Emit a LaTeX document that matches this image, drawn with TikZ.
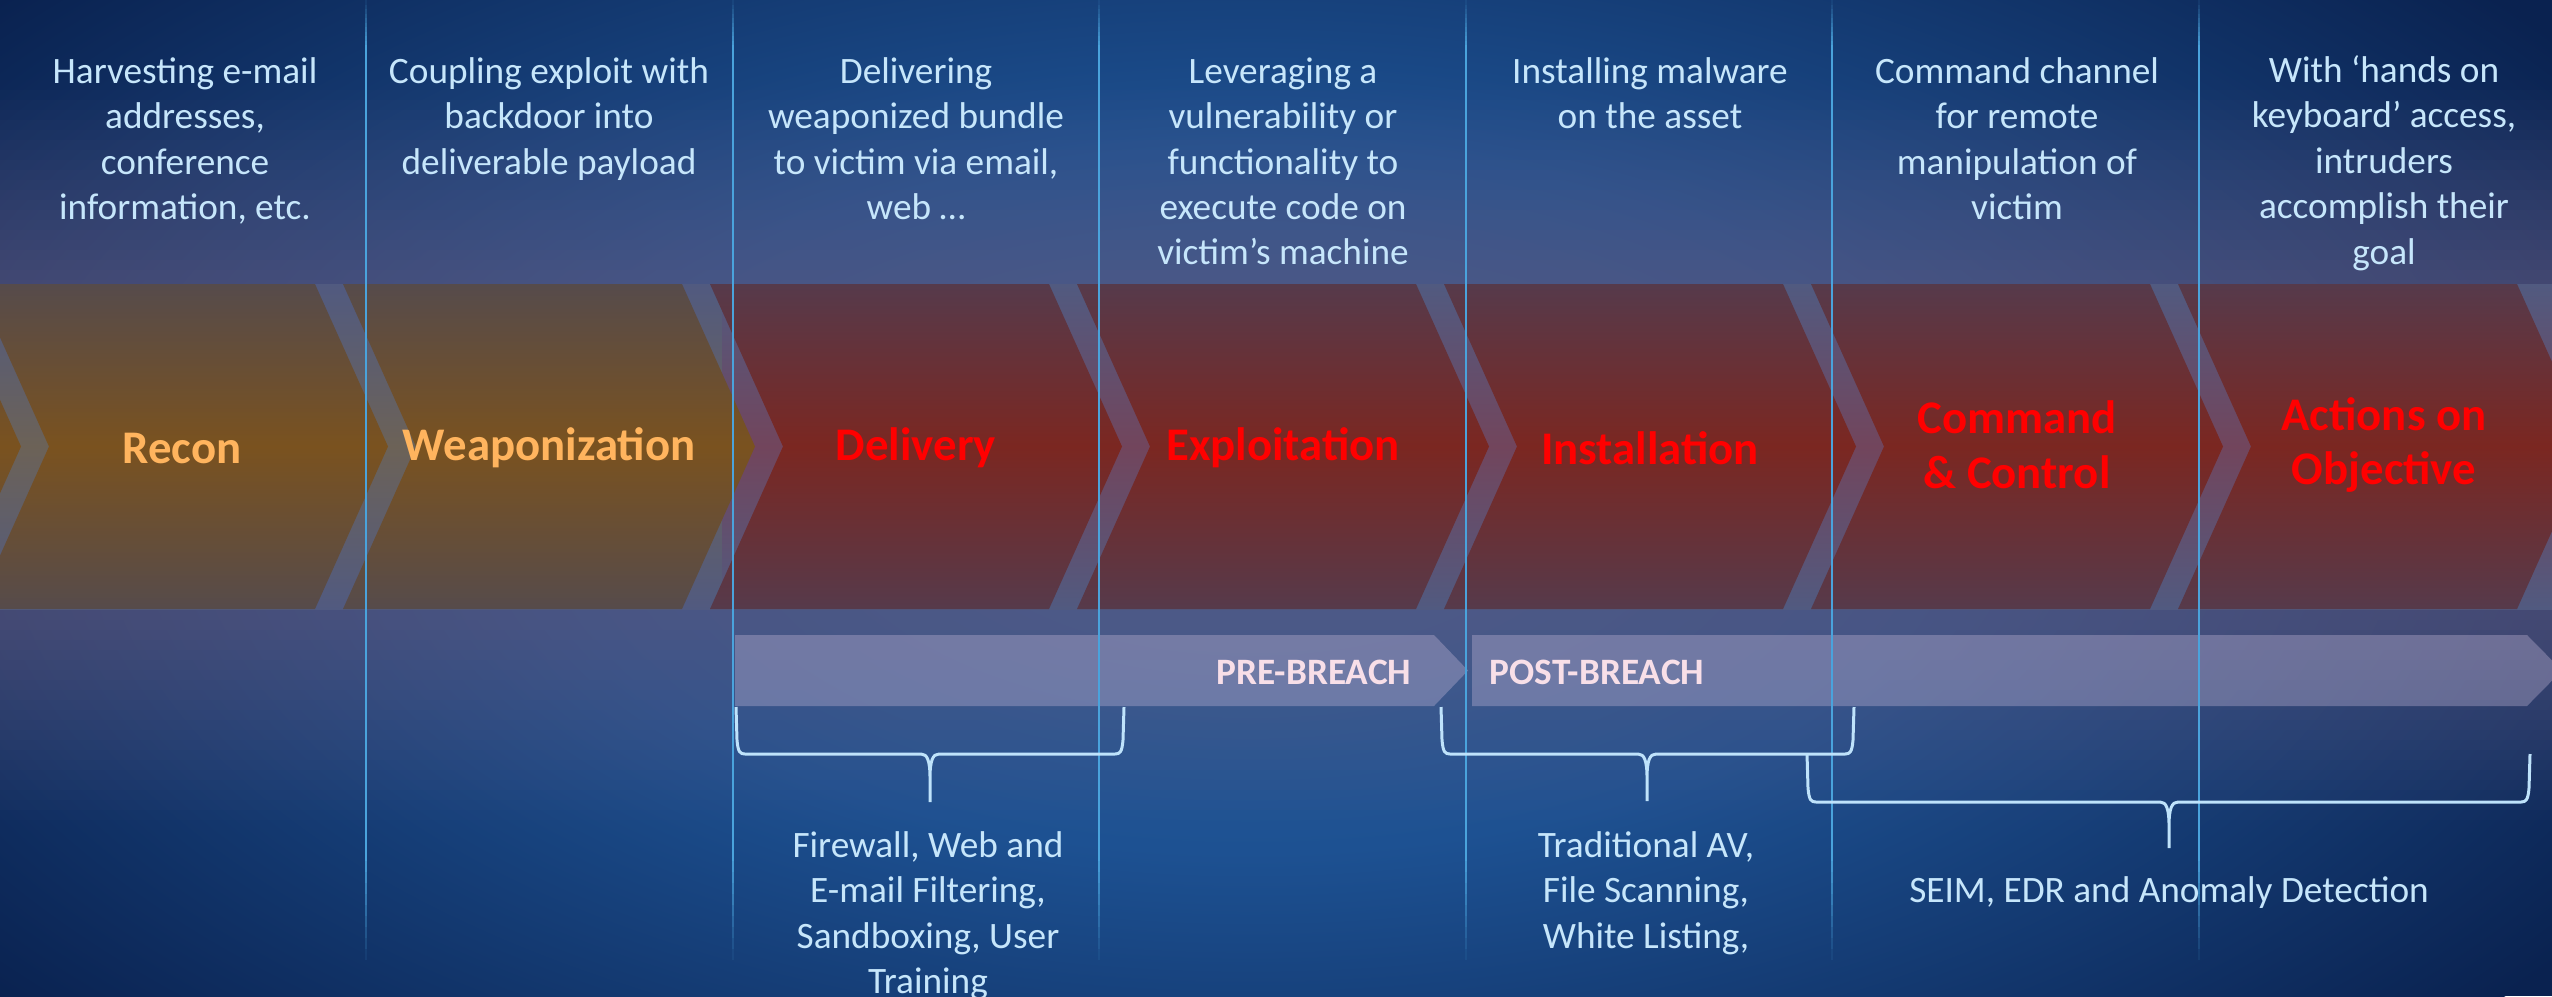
\documentclass[tikz,border=0pt]{standalone}
\usepackage{fontspec}
\setmainfont{Carlito}
\definecolor{bgdark}{HTML}{0A2250}
\definecolor{bgmidA}{HTML}{2C629E}
\definecolor{bgmidB}{HTML}{1D5192}
\definecolor{descblue}{HTML}{C6E6FB}
\definecolor{braceblue}{HTML}{BFE3FB}
\definecolor{vline}{HTML}{4AA3DC}
\definecolor{orangeT}{HTML}{FFB45E}
\definecolor{pinkT}{HTML}{F8DFE8}
\definecolor{oTop}{HTML}{564B4B}
\definecolor{oMid}{HTML}{7A521F}
\definecolor{rTop}{HTML}{563A4B}
\definecolor{rMid}{HTML}{7B2721}
\definecolor{gapTop}{HTML}{515A80}
\definecolor{gapO}{HTML}{6C6257}
\definecolor{gapR}{HTML}{72455C}
\definecolor{bandcol}{HTML}{64587C}
\definecolor{barcol}{HTML}{C4B8D8}
\pgfdeclareradialshading{bgrad}{\pgfpoint{0bp}{0bp}}{color(0bp)=(bgmidA); color(11bp)=(bgmidB); color(25bp)=(bgdark); color(50bp)=(bgdark)}
\newcommand{\mybrace}[6]{% xl, xr, xm, y0, y1, y2
  \draw[bracestyle] (#1,#4) -- (#1+1,#5-14) .. controls (#1+2,#5-2) and (#1+4,#5) .. (#1+9,#5)
    -- (#3-9,#5) .. controls (#3-3,#5) and (#3,#5+6) .. (#3,#5+24) -- (#3,#6)
    (#3,#5+24) .. controls (#3,#5+6) and (#3+3,#5) .. (#3+9,#5)
    -- (#2-9,#5) .. controls (#2-4,#5) and (#2-2,#5-2) .. (#2-1,#5-14) -- (#2,#4);}
\begin{document}
\begin{tikzpicture}[x=0.01cm, y=-0.01cm,
  desc/.style={font=\fontsize{10.6}{12.9}\selectfont, text=descblue, align=center, inner sep=0pt, anchor=north},
  ttl/.style={font=\fontsize{13.3}{15.6}\selectfont\bfseries, align=center, inner sep=0pt},
  ttlO/.style={ttl, text=orangeT},
  ttlR/.style={ttl, text=red},
  chevO/.style={top color=oTop, bottom color=oTop, middle color=oMid},
  chevR/.style={top color=rTop, bottom color=rTop, middle color=rMid},
  phasebar/.style={fill=barcol, fill opacity=0.36},
  phasetxt/.style={font=\fontsize{10.6}{12.9}\selectfont\bfseries, text=pinkT, inner sep=0pt},
  bracestyle/.style={draw=braceblue, line width=0.85pt, line join=round},
  vl/.style={draw=vline, line width=0.6pt}
]
\useasboundingbox (0,0) rectangle (2552,996);
% background
\fill[bgdark] (0,0) rectangle (2552,996);
\shade[shading=bgrad] (1250,500) ellipse [x radius=1600, y radius=800];
% purple-grey band behind the chevrons, fading out upwards and downwards
\foreach \i in {0,...,74}{
  \pgfmathsetmacro\yc{85+10*\i}
  \pgfmathsetmacro\op{max(0,0.62*min(1,min((\yc-80)/210,(830-\yc)/210)))}
  \fill[bandcol, fill opacity=\op] (0,80+10*\i) rectangle (2552,90+10*\i);}
% gap backing
\shade[top color=gapTop, bottom color=gapTop, middle color=gapO] (-10,284) rectangle (722,609);
\shade[top color=gapTop, bottom color=gapTop, middle color=gapR] (722,284) rectangle (2562,609);
% chevrons
\foreach \L in {-391,-24,343}{
  \shade[chevO] (\L,284) -- (\L+339,284) -- (\L+412,446.5) -- (\L+339,609) -- (\L,609) -- (\L+73,446.5) -- cycle;}
\foreach \L in {710,1077,1444,1811,2178}{
  \shade[chevR] (\L,284) -- (\L+339,284) -- (\L+412,446.5) -- (\L+339,609) -- (\L,609) -- (\L+73,446.5) -- cycle;}
% phase bars
\fill[phasebar] (735,635) -- (1434,635) -- (1468,670.5) -- (1434,706) -- (735,706) -- cycle;
\fill[phasebar] (1472,635) -- (2527,635) -- (2562,670.5) -- (2527,706) -- (1472,706) -- cycle;
% vertical guide lines
\foreach \x in {366,733,1099,1466,1832,2199}{
  \draw[vl] (\x,45) -- (\x,850);
  \foreach \i in {0,...,9}{
    \draw[vl, draw opacity={1-0.1*\i}] (\x,850+11*\i) -- (\x,861+11*\i);
    \draw[vl, draw opacity={0.1+0.09*\i}] (\x,4.5*\i) -- (\x,4.5+4.5*\i);}}
% titles
\node[ttlO] (t0) at (182,448) {Recon};
\node[ttlO] (t1) at (549,448) {Weaponization};
\node[ttlR] (t2) at (916,448) {Delivery};
\node[ttlR] (t3) at (1283,448) {Exploitation};
\node[ttlR] (t4) at (1650,448) {Installation};
\node[ttlR] (t5) at (2017,445) {Command\\\& Control};
\node[ttlR] (t6) at (2384,445) {Actions on\\Objective};
% descriptions
\node[desc] (d0) at (185,57) {Harvesting e-mail\\addresses,\\conference\\information, etc.};
\node[desc] (d1) at (549,57) {Coupling exploit with\\backdoor into\\deliverable payload};
\node[desc] (d2) at (916,57) {Delivering\\weaponized bundle\\to victim via email,\\web …};
\node[desc] (d3) at (1283,57) {Leveraging a\\vulnerability or\\functionality to\\execute code on\\victim’s machine};
\node[desc] (d4) at (1650,57) {Installing malware\\on the asset};
\node[desc] (d5) at (2017,57) {Command channel\\for remote\\manipulation of\\victim};
\node[desc] (d6) at (2384,55) {With ‘hands on\\keyboard’ access,\\intruders\\accomplish their\\goal};
% phase labels
\node[phasetxt, anchor=east] (pre) at (1412,672) {PRE-BREACH};
\node[phasetxt, anchor=west] (post) at (1489,672) {POST-BREACH};
% braces
\mybrace{736}{1124}{930}{707}{754}{802}
\mybrace{1441}{1854}{1647}{707}{754}{801}
\mybrace{1807}{2530}{2169}{754}{802}{848}
% bottom texts
\node[desc] (b1) at (928,831) {Firewall, Web and\\E-mail Filtering,\\Sandboxing, User\\Training};
\node[desc] (b2) at (1646,831) {Traditional AV,\\File Scanning,\\White Listing,};
\node[desc] (b3) at (2169,876) {SEIM, EDR and Anomaly Detection};
\end{tikzpicture}
\end{document}
